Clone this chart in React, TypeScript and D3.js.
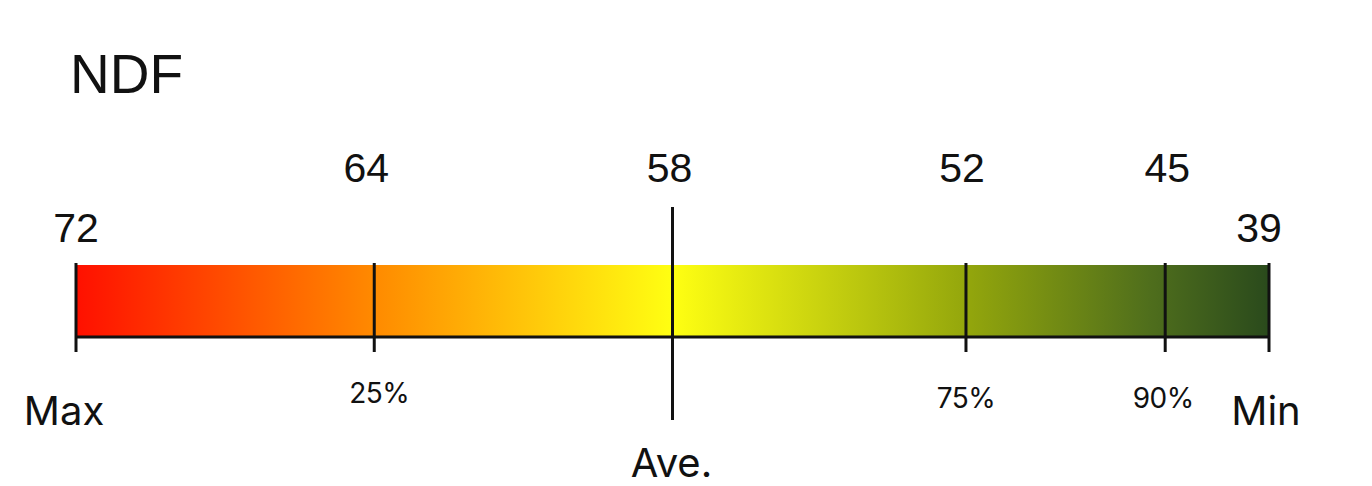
import { useEffect, useRef } from 'react';
import * as d3 from 'd3';

const title = 'NDF';
// NDF values at each mark, from max to min
const values = [72, 64, 58, 52, 45, 39];
const bottomLabels = ['Max', '25%', 'Ave.', '75%', '90%', 'Min'];
// where each mark sits along the bar (0-100)
const markPos = [0, 25, 50, 74.6, 91.3, 100];
// gradient colours along the bar
const gradOffsets = [0, 0.25, 0.5, 0.75, 0.9, 1];
const gradColors = ['#ff1000', '#ff8a00', '#ffff12', '#92a50c', '#4f6e1c', '#2a4a1c'];

const W = 1372;
const H = 486;

const App = () => {
  const svgRef = useRef<SVGSVGElement | null>(null);

  useEffect(() => {
    if (!svgRef.current) return;
    const svg = d3.select(svgRef.current);
    svg.selectAll('*').remove();

    const x = d3.scaleLinear().domain([0, 100]).range([76, 1269]);
    const barTop = 265;
    const barBottom = 337;

    const defs = svg.append('defs');
    const grad = defs.append('linearGradient')
      .attr('id', 'ndfGrad')
      .attr('x1', '0%').attr('x2', '100%')
      .attr('y1', '0%').attr('y2', '0%');
    grad.selectAll('stop')
      .data(gradOffsets)
      .enter()
      .append('stop')
      .attr('offset', d => d)
      .attr('stop-color', (_d, i) => gradColors[i]);

    svg.append('text')
      .attr('x', 70)
      .attr('y', 93)
      .attr('font-family', '"Liberation Sans", Arial, sans-serif')
      .attr('font-size', 55)
      .attr('fill', '#111')
      .text(title);

    // the bar
    svg.append('rect')
      .attr('x', x(0))
      .attr('y', barTop)
      .attr('width', x(100) - x(0))
      .attr('height', barBottom - barTop)
      .attr('fill', 'url(#ndfGrad)');

    // bottom line
    svg.append('line')
      .attr('x1', x(0)).attr('x2', x(100))
      .attr('y1', barBottom).attr('y2', barBottom)
      .attr('stroke', '#111')
      .attr('stroke-width', 3);

    // tick marks, the average one is longer
    svg.selectAll('line.tick')
      .data(markPos)
      .enter()
      .append('line')
      .attr('class', 'tick')
      .attr('x1', d => x(d)).attr('x2', d => x(d))
      .attr('y1', (_d, i) => (i === 2 ? 207 : 263))
      .attr('y2', (_d, i) => (i === 2 ? 420 : 352))
      .attr('stroke', '#111')
      .attr('stroke-width', 3);

    // values above the bar; the end values sit lower
    const ends = (i: number) => i === 0 || i === values.length - 1;
    const valShift = [0, -8, -3, -4, 2, -10];
    svg.selectAll('text.val')
      .data(values)
      .enter()
      .append('text')
      .attr('class', 'val')
      .attr('x', (_d, i) => x(markPos[i]) + valShift[i])
      .attr('y', (_d, i) => (ends(i) ? 242 : 182))
      .attr('text-anchor', 'middle')
      .attr('font-family', '"Liberation Sans", Arial, sans-serif')
      .attr('font-size', 41)
      .attr('fill', '#111')
      .text(d => d);

    // labels under the bar
    const labShift = [-12, 5, -1, 0, -2, -3];
    svg.selectAll('text.lab')
      .data(bottomLabels)
      .enter()
      .append('text')
      .attr('class', 'lab')
      .attr('x', (_d, i) => x(markPos[i]) + labShift[i])
      .attr('y', (_d, i) => (i === 2 ? 477 : ends(i) ? 425 : i === 1 ? 403 : 408))
      .attr('text-anchor', 'middle')
      .attr('font-family', 'Inter, "Noto Sans", sans-serif')
      .attr('font-size', (_d, i) => (ends(i) || i === 2 ? 40 : 28))
      .attr('letter-spacing', (_d, i) => (ends(i) || i === 2 ? 0 : -0.5))
      .attr('fill', '#111')
      .text(d => d);
  }, []);

  return (
    <svg
      ref={svgRef}
      width={W}
      height={H}
      style={{ position: 'absolute', left: 0, top: 0, background: '#fff' }}
    ></svg>
  );
};

export default App;
